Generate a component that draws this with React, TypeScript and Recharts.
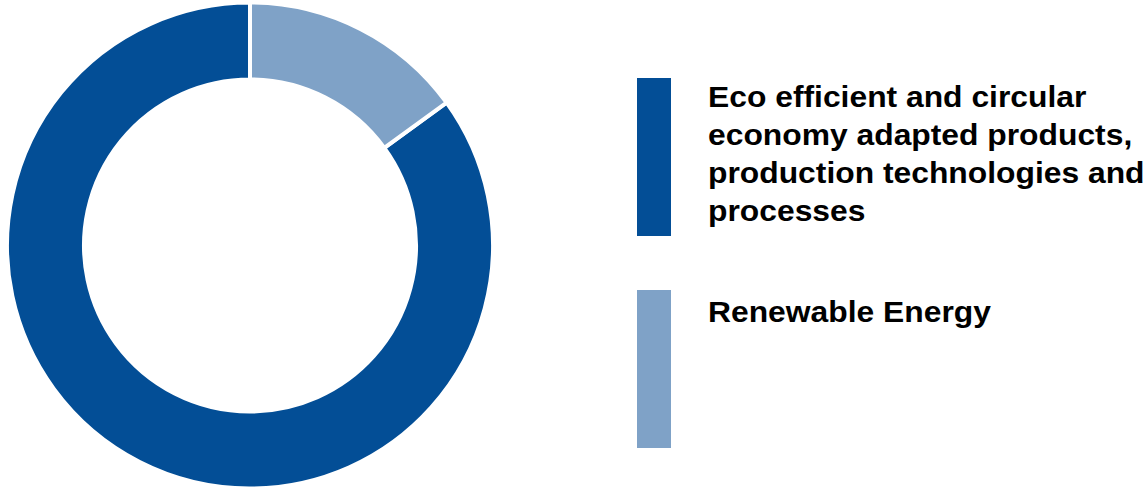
import { PieChart, Pie, Cell } from 'recharts'

const categories = [
  'Eco efficient and circular economy adapted products, production technologies and processes',
  'Renewable Energy',
]
const shares = [85, 15]
const labelLines = [
  ['Eco efficient and circular', 'economy adapted products,', 'production technologies and', 'processes'],
  ['Renewable Energy'],
]
const colors = ['#034E96', '#7FA2C7']

const data = categories.map((name, i) => ({ name, value: shares[i] }))

const barTops = [78, 290]
const textTops = [78, 293]

// legend: tall colour bar + bold wrapped label, one block per category
function BlockLegend() {
  return (
    <>
      {data.map((d, i) => (
        <div key={d.name}>
          <div style={{ position: 'absolute', left: 637, top: barTops[i], width: 34, height: 158, background: colors[i] }} />
          <div
            style={{
              position: 'absolute',
              left: 708,
              top: textTops[i],
              fontFamily: '"Liberation Sans", Arial, sans-serif',
              fontWeight: 700,
              fontSize: 29,
              lineHeight: '38px',
              color: '#000',
              whiteSpace: 'nowrap',
              transform: 'scaleX(1.097)',
              transformOrigin: '0 0',
            }}
          >
            {labelLines[i].map((l) => (
              <div key={l}>{l}</div>
            ))}
          </div>
        </div>
      ))}
    </>
  )
}

export default function App() {
  const start = 90 - (shares[1] / 100) * 360
  return (
    <div style={{ position: 'absolute', left: 0, top: 0, width: 1148, height: 490, overflow: 'hidden', background: '#fff' }}>
      <PieChart width={1148} height={490} margin={{ top: 0, right: 0, bottom: 0, left: 0 }}>
        <Pie
          data={data}
          dataKey="value"
          nameKey="name"
          cx={250}
          cy={245.5}
          innerRadius={166}
          outerRadius={243}
          startAngle={start}
          endAngle={start - 360}
          stroke="#fff"
          strokeWidth={4}
          isAnimationActive={false}
        >
          {data.map((d, i) => (
            <Cell key={d.name} fill={colors[i]} />
          ))}
        </Pie>
      </PieChart>
      <BlockLegend />
    </div>
  )
}
